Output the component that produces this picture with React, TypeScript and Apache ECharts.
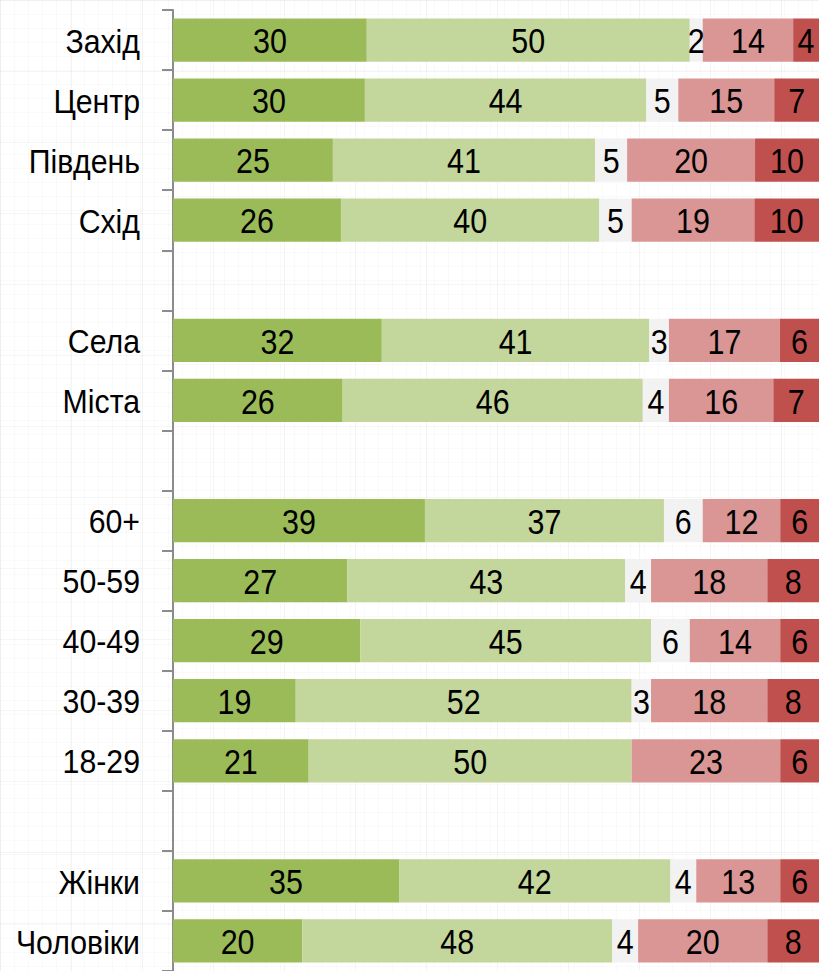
import React, { useEffect, useRef } from "react";
import * as echarts from "echarts";

const categories = [
  "Захід", "Центр", "Південь", "Схід", "",
  "Села", "Міста", "",
  "60+", "50-59", "40-49", "30-39", "18-29", "",
  "Жінки", "Чоловіки",
];

const definitelyPositive = [30, 30, 25, 26, null, 32, 26, null, 39, 27, 29, 19, 21, null, 35, 20];
const ratherPositive = [50, 44, 41, 40, null, 41, 46, null, 37, 43, 45, 52, 50, null, 42, 48];
const undecided = [2, 5, 5, 5, null, 3, 4, null, 6, 4, 6, 3, 0, null, 4, 4];
const ratherNegative = [14, 15, 20, 19, null, 17, 16, null, 12, 18, 14, 18, 23, null, 13, 20];
const definitelyNegative = [4, 7, 10, 10, null, 6, 7, null, 6, 8, 6, 8, 6, null, 6, 8];

const seriesDefs = [
  { name: "definitelyPositive", data: definitelyPositive, color: "#9BBB59" },
  { name: "ratherPositive", data: ratherPositive, color: "#C3D69B" },
  { name: "undecided", data: undecided, color: "#F2F2F2" },
  { name: "ratherNegative", data: ratherNegative, color: "#D99694" },
  { name: "definitelyNegative", data: definitelyNegative, color: "#C0504D" },
];

const FONT = '"Liberation Sans", Arial, sans-serif';

// 100% stacked: each row normalised to its total
const rowTotals = categories.map((_, i) =>
  seriesDefs.reduce((s, d) => s + (d.data[i] ?? 0), 0)
);
const pct = (v: number | null, i: number) =>
  v == null || rowTotals[i] === 0 ? null : (v / rowTotals[i]) * 100;

const labelRows = categories
  .map((_, i) => [i, ...seriesDefs.map((d) => d.data[i])])
  .filter((r) => r[1] != null);

export default function App() {
  const ref = useRef<HTMLDivElement>(null);
  useEffect(() => {
    if (!ref.current) return;
    const chart = echarts.init(ref.current, null, { renderer: "svg" });
    chart.setOption({
      animation: false,
      backgroundColor: "transparent",
      grid: { left: 173, top: 10, width: 646, height: 963 },
      xAxis: { type: "value", min: 0, max: 100, show: false },
      yAxis: {
        type: "category",
        inverse: true,
        data: categories,
        axisLine: { show: true, lineStyle: { color: "#8C8C8C", width: 2 } },
        axisTick: { show: true, length: 11, lineStyle: { color: "#8C8C8C", width: 2 } },
        axisLabel: { show: false },
      },
      series: [
        ...seriesDefs.map((s) => ({
          name: s.name,
          type: "bar",
          stack: "total",
          barCategoryGap: "28%",
          data: s.data.map((v, i) => pct(v, i)),
          itemStyle: { color: s.color },
          label: { show: false },
        })),
        {
          type: "custom",
          name: "labels",
          coordinateSystem: "cartesian2d",
          silent: true,
          clip: false,
          z: 10,
          encode: { y: 0, x: 1 },
          data: labelRows,
          renderItem: (_params: any, api: any) => {
            const i = api.value(0);
            const total = rowTotals[i];
            let cum = 0;
            const children: any[] = [];
            const base = api.coord([0, i]);
            children.push({
              type: "text",
              x: base[0] - 33,
              y: base[1] + 1,
              scaleX: 0.89,
              style: {
                text: categories[i],
                fontSize: 34,
                fontFamily: FONT,
                fill: "#000",
                align: "right",
                verticalAlign: "middle",
              },
            });
            for (let k = 0; k < seriesDefs.length; k++) {
              const v = api.value(k + 1) as number;
              const w = (v / total) * 100;
              if (v > 0) {
                const end = Math.min(cum + w, 100);
                const p = api.coord([(cum + end) / 2, i]);
                children.push({
                  type: "text",
                  x: p[0],
                  y: p[1] + 1,
                  scaleX: 0.87,
                  style: {
                    text: String(v),
                    fontSize: 35,
                    fontFamily: FONT,
                    fill: "#000",
                    align: "center",
                    verticalAlign: "middle",
                  },
                });
              }
              cum += w;
            }
            return { type: "group", children };
          },
        },
      ],
    });
    return () => chart.dispose();
  }, []);
  const bg: React.CSSProperties = {
    position: "absolute",
    left: 0,
    top: 0,
    width: 819,
    height: 971,
    backgroundColor: "#fff",
    backgroundImage:
      "linear-gradient(to right, rgba(0,0,0,0.045) 1px, transparent 1px)," +
      "linear-gradient(to bottom, rgba(0,0,0,0.035) 1px, transparent 1px)," +
      "linear-gradient(to right, rgba(0,0,0,0.02) 1px, transparent 1px)," +
      "linear-gradient(to bottom, rgba(0,0,0,0.02) 1px, transparent 1px)",
    backgroundSize: "71px 71px, 71px 71px, 14px 14px, 14px 14px",
  };
  return (
    <div style={bg}>
      <div ref={ref} style={{ width: 819, height: 971 }} />
    </div>
  );
}
